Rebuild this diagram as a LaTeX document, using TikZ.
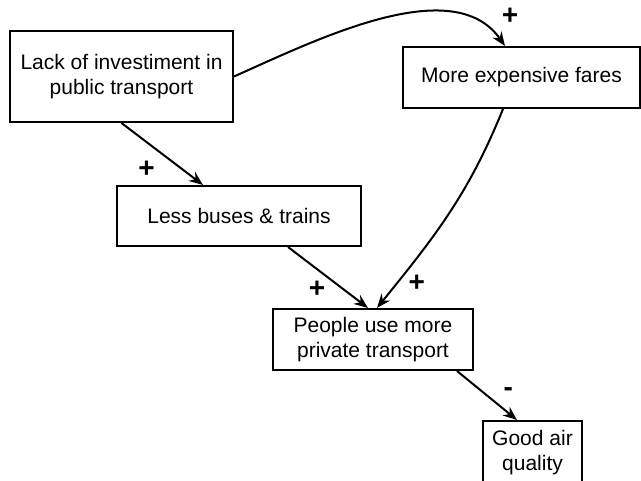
\documentclass[tikz,border=0pt]{standalone}
\usepackage{fontspec}
\setmainfont{Liberation Sans}
\usetikzlibrary{arrows.meta}

\begin{document}
\begin{tikzpicture}[x=1pt,y=1pt,line width=2pt,
		box/.style={draw,align=center,inner sep=0pt,font=\fontsize{21}{25}\selectfont},
		sign/.style={font=\fontsize{28}{28}\bfseries\selectfont,inner sep=0pt}]
		\useasboundingbox (0,0) rectangle (641,481);
		\node[box,minimum width=223pt,minimum height=91pt] (A) at (121.5,404.5) {Lack of investiment in\\public transport};
		\node[box,minimum width=244pt,minimum height=60pt] (B) at (239,265) {Less buses \& trains};
		\node[box,minimum width=237pt,minimum height=61pt] (C) at (521.5,403.5) {More expensive fares};
		\node[box,minimum width=200pt,minimum height=61pt] (D) at (373,141.5) {People use more\\private transport};
		\node[box,minimum width=99pt,minimum height=64pt] (E) at (532.5,28) {Good air\\quality};
		%
		\path[->,>={Stealth[length=14pt,width=11pt]}]
		(A.south) edge node[sign,pos=0.75,xshift=-36pt]{+} ([xshift=-36pt]B.north)
		(A.east) edge[out=24,in=125,looseness=0.85] node[sign,pos=1,xshift=5pt,yshift=30pt]{+} ([xshift=-16.5pt]C.north)
		([xshift=49pt]B.south) edge node[sign,pos=0.7,xshift=-27pt]{+} ([xshift=-5pt]D.north)
		([xshift=-18.5pt]C.south) edge[out=248,in=51] node[sign,pos=0.88,xshift=20pt]{+} ([xshift=4pt]D.north)
		([xshift=84pt]D.south) edge node[sign,pos=0.42,xshift=26pt]{-} ([xshift=-15.5pt]E.north);
\end{tikzpicture}
\end{document}
